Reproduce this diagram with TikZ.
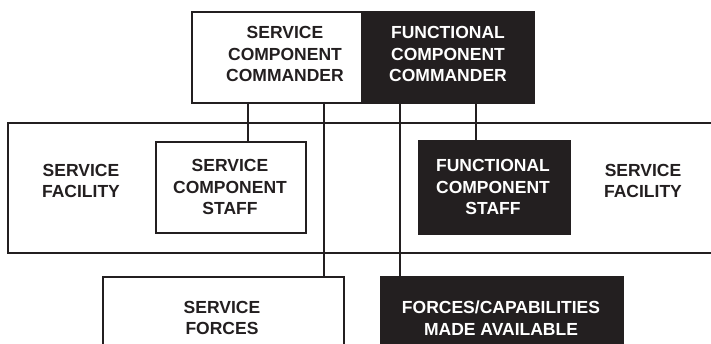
\documentclass[tikz,border=0pt]{standalone}
\usepackage{fontspec}
\setmainfont{Liberation Sans}
\definecolor{ink}{HTML}{231F20}
\tikzset{
  box/.style={draw=ink, line width=2pt, fill=white, inner sep=0pt, anchor=north west},
  darkbox/.style={box, fill=ink},
  lbl/.style={align=center, font=\fontsize{17.5}{21.5}\selectfont\bfseries, text=ink, inner sep=0pt},
  dlbl/.style={lbl, text=white},
  conn/.style={draw=ink, line width=2pt}
}
\begin{document}
\begin{tikzpicture}[x=1pt,y=1pt]
\useasboundingbox (0,0) rectangle (711,343);
\clip (0,0) rectangle (711,343);
% big facility band
\node[box, minimum width=720pt, minimum height=130pt] (band) at (7,221) {};
% top commanders
\node[box, minimum width=170pt, minimum height=91pt] (scc) at (191,332) {};
\node[darkbox, minimum width=172pt, minimum height=91pt] (fcc) at (361,332) {};
% staffs
\node[box, minimum width=150pt, minimum height=91pt] (scs) at (155,202) {};
\node[darkbox, minimum width=151pt, minimum height=93pt] (fcs) at (418,203) {};
% forces
\node[box, minimum width=241pt, minimum height=90pt] (sf) at (102,67) {};
\node[darkbox, minimum width=242pt, minimum height=90pt] (fca) at (380,67) {};
% connectors
\coordinate (c1) at (248,241);
\coordinate (c2) at (324,241);
\coordinate (c3) at (400,241);
\coordinate (c4) at (476,241);
\draw[conn] (c1) -- (c1 |- scs.north);
\draw[conn] (c2) -- (c2 |- sf.north);
\draw[conn] (c3) -- (c3 |- fca.north);
\draw[conn] (c4) -- (c4 |- fcs.north);
% labels
\node[lbl] (t1) at (285,289) {SERVICE\\COMPONENT\\COMMANDER};
\node[dlbl] (t2) at (448,289) {FUNCTIONAL\\COMPONENT\\COMMANDER};
\node[lbl] (t3) at (81,162) {SERVICE\\FACILITY};
\node[lbl] (t4) at (230,156) {SERVICE\\COMPONENT\\STAFF};
\node[dlbl] (t5) at (493,156) {FUNCTIONAL\\COMPONENT\\STAFF};
\node[lbl] (t6) at (643,162) {SERVICE\\FACILITY};
\node[lbl] (t7) at (222,25) {SERVICE\\FORCES};
\node[dlbl] (t8) at (501,25) {FORCES/CAPABILITIES\\MADE AVAILABLE};
\end{tikzpicture}
\end{document}
